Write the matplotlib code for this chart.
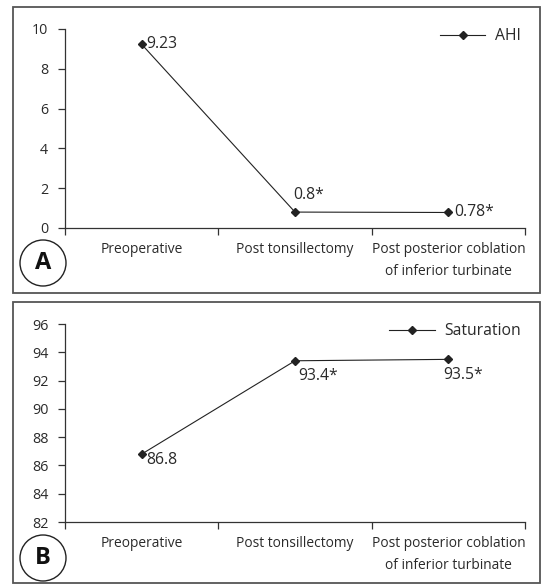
import matplotlib
matplotlib.use('Agg')
import matplotlib.pyplot as plt
from matplotlib.patches import Rectangle, Ellipse

plt.rcParams['font.family'] = ['Open Sans', 'DejaVu Sans']

categories = ['Preoperative', 'Post tonsillectomy', 'Post posterior coblation\nof inferior turbinate']
ahi = [9.23, 0.8, 0.78]
ahi_labels = ['9.23', '0.8*', '0.78*']
saturation = [86.8, 93.4, 93.5]
sat_labels = ['86.8', '93.4*', '93.5*']

W, H = 542, 585
TXT = '#2a2a2a'


def fx(px):
    return px / W


def fy(py):
    return 1 - py / H


def draw_panel(fig, span, values, labels, offsets, name, ylim, yticks, letter, center, box):
    # span = (top, bottom) of the plot area in pixels of the original picture
    ax = fig.add_axes([fx(65), fy(span[1]), fx(460), (span[1] - span[0]) / H])
    x = [i + 0.5 for i in range(len(values))]
    ax.plot(x, values, color='#222222', lw=0.8, marker='D', ms=4, label=name)
    for xi, v, lab, off in zip(x, values, labels, offsets):
        ax.annotate(lab, (xi, v), xytext=off, textcoords='offset points',
                    ha='left', va='center', fontsize=11.3, color=TXT)
    ax.set_xlim(0, 3)
    ax.set_ylim(*ylim)
    ax.set_yticks(yticks)
    ax.set_xticks([0, 1, 2, 3])
    ax.set_xticklabels([])
    ax.set_xticks(x, minor=True)
    ax.set_xticklabels(categories, minor=True, fontsize=9.9, color=TXT, linespacing=1.65, va='top')
    ax.tick_params(axis='x', which='major', length=5, width=0.9, color='#333333')
    ax.tick_params(axis='x', which='minor', length=0, pad=10)
    ax.tick_params(axis='y', length=5, width=0.9, pad=7, labelsize=10.3, labelcolor=TXT, color='#333333')
    for s in ['top', 'right']:
        ax.spines[s].set_visible(False)
    for s in ['left', 'bottom']:
        ax.spines[s].set_color('#333333')
        ax.spines[s].set_linewidth(0.9)
    ax.patch.set_alpha(0)
    ax.legend(loc='upper right', bbox_to_anchor=(fx(527), fy(span[0] - 7)),
              bbox_transform=fig.transFigure, frameon=False, fontsize=11.3,
              handlelength=2.9, handletextpad=0.6, borderaxespad=0, labelcolor=TXT)

    # panel border
    fig.patches.append(Rectangle((fx(box[0]), fy(box[3])), fx(box[2] - box[0]), (box[3] - box[1]) / H,
                                 transform=fig.transFigure, fill=False, ec='#555555', lw=1.3))
    # circled letter
    cx, cy = center
    fig.patches.append(Ellipse((fx(cx), fy(cy)), fx(46), 46 / H, transform=fig.transFigure,
                               fill=False, ec='#222222', lw=1.0))
    fig.text(fx(cx), fy(cy), letter, ha='center', va='center',
             fontsize=17, fontweight='bold', color='#111111')
    return ax


fig = plt.figure(figsize=(W / 100, H / 100), dpi=100)
fig.patch.set_facecolor('white')

draw_panel(fig, (29, 228), ahi, ahi_labels, [(3, 0), (-1, 12), (4, 0)], 'AHI',
           (0, 10), [0, 2, 4, 6, 8, 10], 'A', (43, 263), (13, 7, 540, 293))

draw_panel(fig, (324, 522), saturation, sat_labels, [(3, -4), (2, -11), (-4, -11)], 'Saturation',
           (82, 96), [82, 84, 86, 88, 90, 92, 94, 96], 'B', (43, 558), (13, 302, 540, 583))

fig.savefig('out.png', dpi=100)
